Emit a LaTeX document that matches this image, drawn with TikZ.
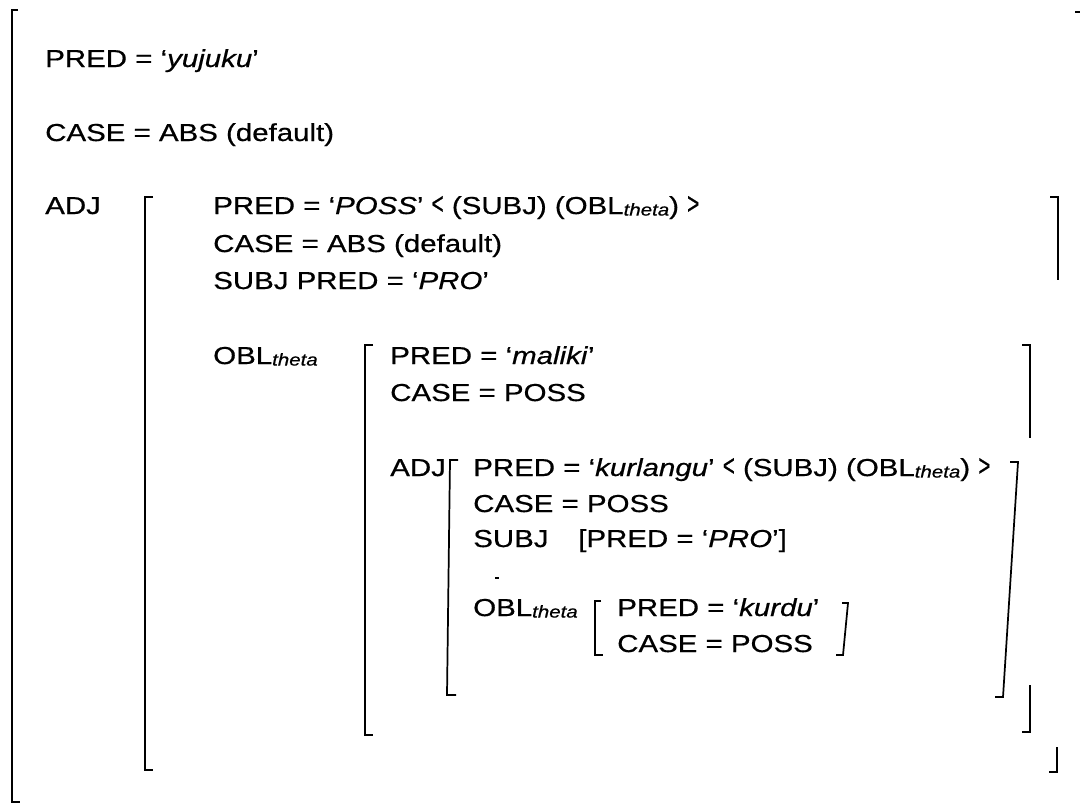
\documentclass[tikz,border=0pt]{standalone}
\usepackage{fontspec}
\setmainfont{Liberation Sans}[FakeStretch=1.2,FakeBold=0.6]
\newcommand{\oblsub}{OBL\raisebox{-0.12ex}{\fontsize{12.8}{12.8}\selectfont\itshape theta}}
\newcommand{\lchev}{\scalebox{0.7}[1.25]{<}}
\newcommand{\rchev}{\scalebox{0.7}[1.25]{>}}
\tikzset{
	fstext/.style={anchor=base west, inner sep=0pt, font=\fontsize{18.4}{21}\selectfont},
	brk/.style={line width=1.3pt, line cap=butt},
}

\begin{document}
\begin{tikzpicture}[x=0.75pt,y=0.75pt,yscale=-1,xscale=1]
		\useasboundingbox (0,0) rectangle (1080,807);
		
		% Text: äußere Struktur
		\node[fstext] (pred0) at (45,67) {PRED = ‘\textit{yujuku}’};
		\node[fstext] (case0) at (45,141) {CASE = ABS (default)};
		\node[fstext] (adj0) at (45,214) {ADJ};
		
		% Text: ADJ
		\node[fstext] (pred1) at (213,214) {PRED = ‘\textit{POSS}’ \lchev{} (SUBJ) (\oblsub) \rchev};
		\node[fstext] (case1) at (213,252) {CASE = ABS (default)};
		\node[fstext] (subj1) at (213,289) {SUBJ PRED = ‘\textit{PRO}’};
		\node[fstext] (obl1) at (213,364) {\oblsub};
		
		% Text: OBL theta
		\node[fstext] (pred2) at (390,364) {PRED = ‘\textit{maliki}’};
		\node[fstext] (case2) at (390,401) {CASE = POSS};
		\node[fstext] (adj2) at (390,476) {ADJ};
		
		% Text: inneres ADJ
		\node[fstext] (pred3) at (473,476) {PRED = ‘\textit{kurlangu}’ \lchev{} (SUBJ) (\oblsub) \rchev};
		\node[fstext] (case3) at (473,512) {CASE = POSS};
		\node[fstext] (subj3) at (473,547) {SUBJ};
		\node[fstext] (subjf3) at (578,547) {[PRED = ‘\textit{PRO}’]};
		\node[fstext] (obl3) at (473,616) {\oblsub};
		
		% Text: innerstes OBL theta
		\node[fstext] (pred4) at (617,616) {PRED = ‘\textit{kurdu}’};
		\node[fstext] (case4) at (617,652) {CASE = POSS};
		
		% Shape: äußere Klammer
		\draw[brk] (18,10) -- (12,10) -- (12,802) -- (20,802);
		\draw[brk] (1075,12) -- (1080,12);
		
		% Shape: Klammer ADJ
		\draw[brk] (153,197) -- (145,197) -- (145,770) -- (153,770);
		\draw[brk] (1050,197) -- (1058,197) -- (1058,280);
		\draw[brk] (1057,747) -- (1057,772) -- (1049,772);
		
		% Shape: Klammer OBL theta
		\draw[brk] (373,345) -- (365,345) -- (365,735) -- (373,735);
		\draw[brk] (1022,345) -- (1030,345) -- (1030,438);
		\draw[brk] (1030,685) -- (1030,732) -- (1022,732);
		
		% Shape: Klammer inneres ADJ
		\draw[brk] (458,460) -- (450,460) -- (447,695) -- (456,695);
		\draw[brk] (1010,462) -- (1018,462) -- (1003,697) -- (995,697);
		
		% Shape: Klammer kurdu
		\draw[brk] (601,601) -- (595,601) -- (595,655) -- (603,655);
		\draw[brk] (842,603) -- (848,603) -- (843,655) -- (836,655);
		
		% Shape: Strich
		\draw[brk] (495,578) -- (499,578);
		
	\end{tikzpicture}
\end{document}
